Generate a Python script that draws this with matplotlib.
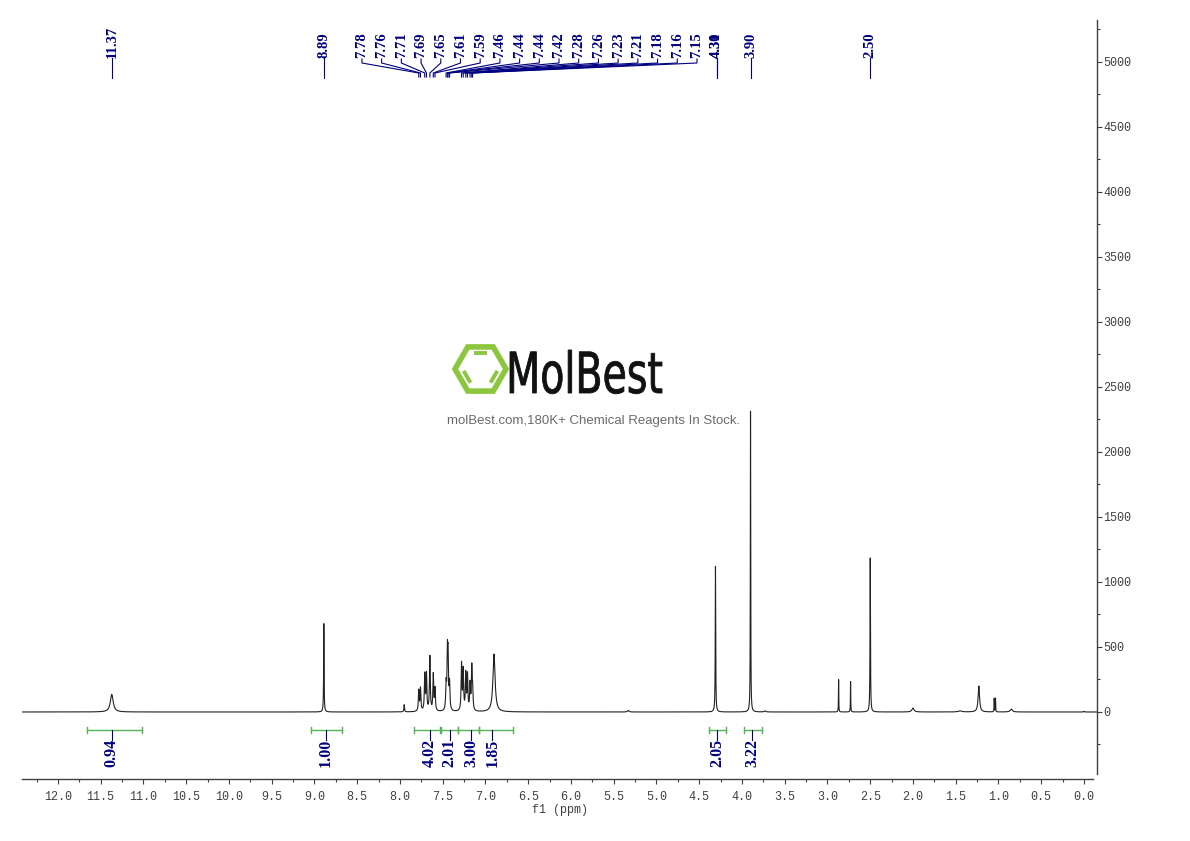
import numpy as np
import matplotlib
matplotlib.use('Agg')
import matplotlib.pyplot as plt
from matplotlib.transforms import blended_transform_factory, Affine2D
from matplotlib.textpath import TextPath
from matplotlib.font_manager import FontProperties
from matplotlib.patches import PathPatch, RegularPolygon

# peak list: shift (ppm), height, line width (ppm)
peak_ppm = [11.37, 8.89, 7.95, 7.78, 7.76, 7.71, 7.69, 7.65, 7.61, 7.59,
            7.46, 7.445, 7.437, 7.42, 7.28, 7.26, 7.23, 7.21, 7.18, 7.16, 7.15,
            6.90, 5.33, 4.31, 3.90, 3.73, 2.87, 2.73, 2.50, 2.00, 1.45,
            1.23, 1.05, 1.035, 0.85, 0.00]
peak_height = [135, 680, 55, 160, 175, 280, 280, 420, 280, 170,
               190, 400, 360, 200, 360, 310, 280, 270, 200, 320, 150,
               445, 12, 1120, 2320, 8, 250, 235, 1185, 30, 8,
               200, 105, 105, 22, 5]
peak_width = [0.04, 0.006, 0.008, 0.011, 0.011, 0.011, 0.011, 0.011, 0.011, 0.011,
              0.011, 0.011, 0.011, 0.011, 0.011, 0.011, 0.011, 0.011, 0.011, 0.011, 0.011,
              0.03, 0.02, 0.006, 0.005, 0.02, 0.004, 0.004, 0.006, 0.03, 0.05,
              0.02, 0.004, 0.004, 0.03, 0.01]

# peak labels at top
label_ppm = [11.37, 8.89, 7.78, 7.76, 7.71, 7.69, 7.65, 7.61, 7.59, 7.46, 7.44,
             7.44, 7.42, 7.28, 7.26, 7.23, 7.21, 7.18, 7.16, 7.15, 4.31, 4.30,
             3.90, 2.50]
label_txt = ['11.37', '8.89', '7.78', '7.76', '7.71', '7.69', '7.65', '7.61', '7.59',
             '7.46', '7.44', '7.44', '7.42', '7.28', '7.26', '7.23', '7.21', '7.18',
             '7.16', '7.15', '4.31', '4.30', '3.90', '2.50']

# integrals
integ_from = [11.66, 9.04, 7.83, 7.52, 7.32, 7.07, 4.39, 3.98]
integ_to = [11.02, 8.68, 7.53, 7.32, 7.07, 6.68, 4.19, 3.77]
integ_val = ['0.94', '1.00', '4.02', '2.01', '3.00', '1.85', '2.05', '3.22']
integ_lab_ppm = [11.37, 8.87, 7.65, 7.42, 7.17, 6.92, 4.29, 3.88]

W, H = 1190, 841
NAVY = '#000080'
GREEN = '#55b455'
GREY = '#404040'


def fy(y_pix):
    # pixel row -> axes fraction
    return (774 - y_pix) / 754.0


ppm = np.linspace(12.45, -0.16, 30000)
spec = np.zeros_like(ppm)
for p, h, w in zip(peak_ppm, peak_height, peak_width):
    g = w / 2.0
    spec += h * g**2 / ((ppm - p)**2 + g**2)

fig = plt.figure(figsize=(W / 100, H / 100), dpi=100)
ax = fig.add_axes([22 / W, 1 - 774 / H, 1075 / W, 754 / H])
ax.plot(ppm, spec, color='#222222', lw=0.8)
ax.set_xlim(12.42, -0.152)
ax.set_ylim(-477, 5323)

for s in ['top', 'left']:
    ax.spines[s].set_visible(False)
for s in ['bottom', 'right']:
    ax.spines[s].set_color(GREY)
    ax.spines[s].set_linewidth(1.0)
ax.spines['bottom'].set_position(('outward', 3.6))
ax.spines['bottom'].set_bounds(12.42, -0.10)

mono = 'Liberation Mono'
ax.set_xticks(np.arange(0, 12.01, 0.5))
ax.set_xticks(np.arange(0, 12.4, 0.25), minor=True)
ax.set_xticklabels(['%.1f' % v for v in np.arange(0, 12.01, 0.5)],
                   fontfamily=mono, fontsize=8.5, color=GREY)
ax.yaxis.tick_right()
ax.set_yticks(np.arange(0, 5001, 500))
ax.set_yticks(np.arange(-250, 5300, 250), minor=True)
ax.set_yticklabels([str(v) for v in range(0, 5001, 500)],
                   fontfamily=mono, fontsize=8.5, color=GREY)
ax.tick_params(axis='x', which='major', direction='out', length=3.5, width=0.8,
               color=GREY, pad=5)
ax.tick_params(axis='x', which='minor', direction='out', length=2, width=0.8, color=GREY)
ax.tick_params(axis='y', which='major', direction='out', length=3.5, width=0.8,
               color=GREY, pad=1)
ax.tick_params(axis='y', which='minor', direction='out', length=2, width=0.8, color=GREY)
fig.text(560 / W, 1 - 810 / H, 'f1 (ppm)', ha='center', va='center',
         fontfamily=mono, fontsize=8.5, color=GREY)

trans = blended_transform_factory(ax.transData, ax.transAxes)
lab_font = dict(family='Liberation Serif', weight='bold', size=10.5)
int_font = dict(family='Liberation Serif', weight='bold', size=11.5)

# peak labels: cluster labels spread evenly between pixel columns 362 and 697
clus = list(range(2, 20))
spread = np.linspace((1084 - 362) / 85.5, (1084 - 697) / 85.5, len(clus))
text_x = list(label_ppm)
for k, i in enumerate(clus):
    text_x[i] = spread[k]
text_x[20] = 4.295
text_x[21] = 4.295
for i, (px, tx, t) in enumerate(zip(label_ppm, text_x, label_txt)):
    ax.text(tx, fy(58), t, rotation=90, ha='center', va='bottom', color=NAVY,
            fontdict=lab_font, transform=trans, clip_on=False)
    if i in clus:
        ax.plot([tx, tx, px, px], [fy(59), fy(63), fy(73), fy(77)], color=NAVY,
                lw=0.8, transform=trans, clip_on=False)
    else:
        ax.plot([tx, tx], [fy(58), fy(78)], color=NAVY, lw=0.8,
                transform=trans, clip_on=False)

# integrals
for a, b, v, lx in zip(integ_from, integ_to, integ_val, integ_lab_ppm):
    ax.plot([a, b], [fy(730), fy(730)], color=GREEN, lw=1.0, transform=trans, clip_on=False)
    for e in (a, b):
        ax.plot([e, e], [fy(727), fy(733)], color=GREEN, lw=1.0, transform=trans, clip_on=False)
    c = (a + b) / 2.0
    if abs(c - lx) > 0.05:
        ax.plot([c, c, lx, lx], [fy(730), fy(733), fy(737), fy(740)], color=NAVY, lw=0.8,
                transform=trans, clip_on=False)
    else:
        ax.plot([lx, lx], [fy(730), fy(740)], color=NAVY, lw=0.8, transform=trans, clip_on=False)
    ax.text(lx, fy(739), v, rotation=90, ha='center', va='top', color=NAVY,
            fontdict=int_font, transform=trans, clip_on=False)

# watermark overlay in pixel coordinates
ov = fig.add_axes([0, 0, 1, 1])
ov.set_xlim(0, W)
ov.set_ylim(H, 0)
ov.axis('off')
ov.patch.set_alpha(0)
lime = '#8cc63f'
cx, cy, R = 480.5, 369, 28
ov.add_patch(RegularPolygon((cx, cy), 6, radius=R - 2.5, orientation=np.pi / 6,
                            fill=False, ec=lime, lw=4.0))
r2 = 0.64 * R
ang = np.radians([0, 60, 120, 180, 240, 300])
vx = cx + r2 * np.cos(ang)
vy = cy - r2 * np.sin(ang)
for i0, i1 in [(1, 2), (3, 4), (5, 0)]:
    x0, y0, x1, y1 = vx[i0], vy[i0], vx[i1], vy[i1]
    sh = 0.12
    ov.plot([x0 + sh * (x1 - x0), x1 - sh * (x1 - x0)],
            [y0 + sh * (y1 - y0), y1 - sh * (y1 - y0)], color=lime, lw=2.8,
            solid_capstyle='butt')
tp = TextPath((0, 0), 'MolBest', size=1, prop=FontProperties(family='DejaVu Sans'))
bb = tp.get_extents()
sx = 152 / bb.width
sy = 43 / bb.y1
tr = Affine2D().translate(-bb.x0, 0).scale(sx, -sy).translate(510, 393) + ov.transData
ov.add_patch(PathPatch(tp, transform=tr, fc='#111111', ec='#111111', lw=0.6))
ov.text(594, 421, 'molBest.com,180K+ Chemical Reagents In Stock.', ha='center', va='center',
        fontfamily='Liberation Sans', fontsize=9.5, color='#6b6b6b')

fig.savefig('out.png', dpi=100)
